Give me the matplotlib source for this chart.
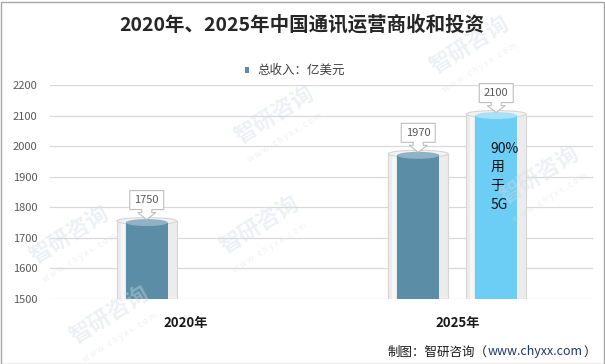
import matplotlib
matplotlib.use('Agg')
import matplotlib.pyplot as plt
from matplotlib.patches import Ellipse, Polygon, Rectangle
from matplotlib.transforms import ScaledTranslation

plt.rcParams['font.family'] = ['Noto Sans CJK SC', 'DejaVu Sans']

# ---- data ----
title = '2020年、2025年中国通讯运营商收和投资'
categories = ['2020年', '2025年']
revenue = [1750, 1970]            # 总收入（亿美元）
revenue_5g = [None, 2100]         # 2025年 5G 相关
series_label = '总收入：亿美元'
inner_note = ['90%', '用', '于', '5G']
yticks = [1500, 1600, 1700, 1800, 1900, 2000, 2100, 2200]
source = ['制图：智研咨询（', 'www.chyxx.com', '）']

W, H = 605, 364
fig = plt.figure(figsize=(W / 100, H / 100), dpi=100)
ax = fig.add_axes([50 / W, 1 - 299 / H, 543 / W, 214 / H])
ax.set_xlim(-0.5, len(categories) - 0.5)
ax.set_ylim(yticks[0], yticks[-1])

px_x = 1.0 / 271.5          # data units per pixel (x)
px_y = 700.0 / 214          # data units per pixel (y)

steel = '#5b8ea6'
steel_top = '#8fb3c4'
sky = '#6ccef5'
sky_top = '#a8e1f7'

for y in yticks:
    ax.axhline(y, color='#d9d9d9', lw=0.9, zorder=0)
for s in ax.spines.values():
    s.set_visible(False)
ax.tick_params(axis='both', length=0)
ax.set_yticks(yticks)
ax.set_yticklabels([str(v) for v in yticks], fontsize=8, color='#595959')
ax.tick_params(axis='y', pad=9)
ax.set_xticks(range(len(categories)))
ax.set_xticklabels(categories, fontsize=9.5, fontweight='bold', color='#1a1a1a')
ax.tick_params(axis='x', pad=12)


def cylinder(xc, top, color, topcolor):
    ow, iw = 60 * px_x, 42 * px_x
    eh = 7 * px_y
    base = yticks[0]
    otop = top + 1.5 * px_y
    # outer translucent gray cylinder
    ax.bar(xc, otop - base, bottom=base, width=ow, color='#ececec',
           edgecolor='#d6d6d6', linewidth=0.8, zorder=2)
    ax.bar(xc - ow / 2 + 4 * px_x, otop - base, bottom=base, width=4 * px_x,
           color='#f6f6f6', linewidth=0, zorder=2, align='edge')
    ax.add_patch(Ellipse((xc, otop), ow, eh, fc='#f3f3f3', ec='#d6d6d6',
                         lw=0.8, zorder=2.5))
    # inner coloured cylinder
    ax.bar(xc, top - base, bottom=base, width=iw, color=color,
           linewidth=0, zorder=3)
    ax.add_patch(Ellipse((xc, top), iw, eh, fc=topcolor, ec='none', zorder=4))


def callout(xc, yv, txt):
    tr = fig.dpi_scale_trans + ScaledTranslation(xc, yv, ax.transData)
    pts = [(-17, 32), (17, 32), (17, 13), (5, 13), (5, 10), (9, 10), (0, 3),
           (-9, 10), (-5, 10), (-5, 13), (-17, 13)]
    poly = Polygon([(a / 100, b / 100) for a, b in pts], closed=True,
                   transform=tr, fc='white', ec='#bfbfbf', lw=0.8, zorder=6,
                   clip_on=False)
    ax.add_patch(poly)
    ax.text(0, 22.5 / 100, txt, transform=tr, ha='center', va='center',
            fontsize=8, color='#595959', zorder=7, clip_on=False)


off = 39 * px_x
for i, v in enumerate(revenue):
    xc = i - off
    cylinder(xc, v, steel, steel_top)
    callout(xc, v, str(v))
for i, v in enumerate(revenue_5g):
    if v is None:
        continue
    xc = i + off
    cylinder(xc, v, sky, sky_top)
    callout(xc, v, str(v))
    tr = fig.dpi_scale_trans + ScaledTranslation(xc, v, ax.transData)
    for k, line in enumerate(inner_note):
        ax.text(-6 / 100, (-33 - k * 18.7) / 100, line, transform=tr,
                ha='left', va='center', fontsize=10, color='#111111', zorder=7)

# title
fig.text(302 / W, 1 - 25 / H, title, ha='center', va='center', fontsize=14,
         fontweight='bold', color='#262626')

# legend
fig.patches.append(Rectangle((245 / W, 1 - 73 / H), 4 / W, 6 / H,
                             transform=fig.transFigure, fc=steel, ec='none'))
fig.text(257 / W, 1 - 70 / H, series_label, ha='left', va='center',
         fontsize=9, color='#404040')

# source line
t = fig.text(388 / W, 1 - 352 / H, source[0], ha='left', va='center',
             fontsize=9, color='#1a1a1a')
a1 = plt.annotate(source[1], xy=(1, 0.5), xycoords=t, ha='left', va='center',
                  fontsize=9, color='#1f3864', annotation_clip=False)
plt.annotate(source[2], xy=(1, 0.5), xycoords=a1, ha='left', va='center',
             fontsize=9, color='#1a1a1a', annotation_clip=False)

# faint watermarks (kept inside the frame)
wm_pos = [(470, 45), (275, 115), (70, 235), (110, 315), (260, 225),
          (540, 175)]
for (wx, wy) in wm_pos:
    fig.text(wx / W, 1 - wy / H, '智研咨询', rotation=32, ha='center',
             va='center', fontsize=16, fontweight='bold', color='#d3dce6',
             alpha=0.4, zorder=0.5)
    fig.text((wx + 10) / W, 1 - (wy + 22) / H, 'w w w . c h y x x . c o m',
             rotation=32, ha='center', va='center', fontsize=6,
             color='#d3dce6', alpha=0.4, zorder=0.5)

# figure frame
fig.patches.append(Rectangle((0.5 / W, 0.5 / H), (W - 2) / W, (H - 2) / H,
                             transform=fig.transFigure, fill=False,
                             ec='#a6a6a6', lw=1))

fig.savefig('out.png', dpi=100)
